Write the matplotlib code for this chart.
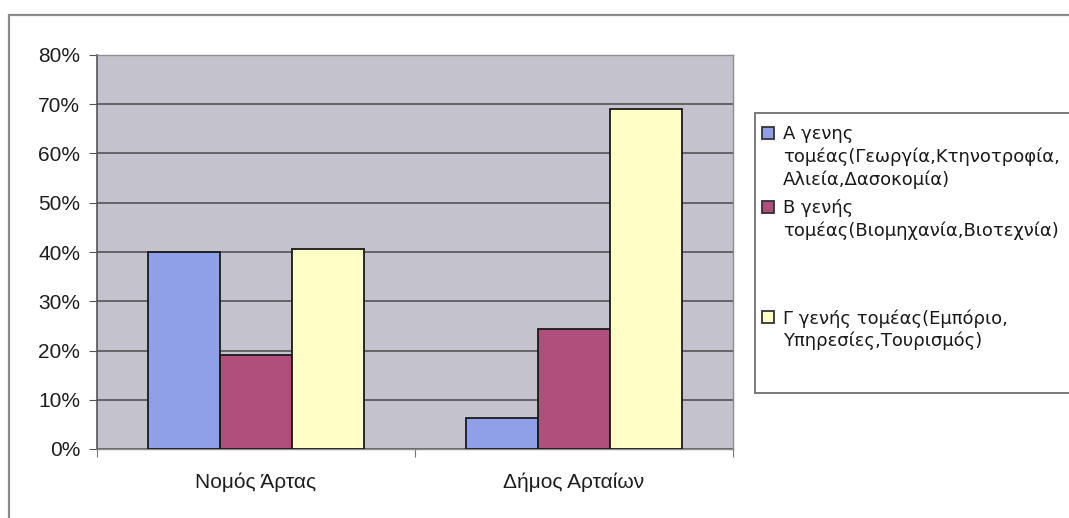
import numpy as np
import matplotlib.pyplot as plt
from matplotlib.patches import Rectangle

# employment share by sector (%)
categories = ['Νομός Άρτας', 'Δήμος Αρταίων']
sector_a = [40.0, 6.2]
sector_b = [19.1, 24.3]
sector_c = [40.6, 69.0]
labels = ['Α γενης\nτομέας(Γεωργία,Κτηνοτροφία,\nΑλιεία,Δασοκομία)',
          'Β γενής\nτομέας(Βιομηχανία,Βιοτεχνία)',
          'Γ γενής τομέας(Εμπόριο,\nΥπηρεσίες,Τουρισμός)']
yticks = [0, 10, 20, 30, 40, 50, 60, 70, 80]

colors = ['#8fa0e9', '#b04f7c', '#fffec6']
W, H = 1069, 518

fig = plt.figure(figsize=(W / 100, H / 100), dpi=100)
fig.patch.set_facecolor('white')

# outer chart frame
fig.patches.append(Rectangle((9 / W, -0.1), 1.2, 1 - 15 / H + 0.1,
                             transform=fig.transFigure, fill=False,
                             edgecolor='#8a8a8a', lw=1.6))

ax = fig.add_axes([97 / W, 1 - 449 / H, 636 / W, 394 / H])
ax.set_facecolor('#c4c2cc')

x = np.arange(len(categories)) + 0.5
w = 0.226
for i, vals in enumerate([sector_a, sector_b, sector_c]):
    ax.bar(x + (i - 1) * w, vals, w, color=colors[i], edgecolor='#1a1a1a',
           lw=1.3, zorder=3)

ax.set_xlim(0, 2)
ax.set_ylim(0, 80)
ax.set_yticks(yticks)
ax.set_yticklabels([f'{t}%' for t in yticks])
ax.yaxis.grid(True, color='#4a4a4a', lw=1.1, zorder=1)
ax.set_axisbelow(True)

ax.set_xticks([0, 1, 2])
ax.set_xticklabels([])
ax.set_xticks(x, minor=True)
ax.set_xticklabels(categories, minor=True)
ax.tick_params(axis='x', which='minor', length=0, pad=17)
ax.tick_params(axis='x', which='major', length=6, color='#777', direction='out')
ax.tick_params(axis='y', length=6, color='#555', pad=6)

for lab in ax.get_yticklabels() + ax.get_xticklabels(minor=True):
    lab.set_fontfamily('Liberation Sans')
    lab.set_fontsize(15)
    lab.set_color('#1e1e1e')

for side in ['top', 'right', 'bottom']:
    ax.spines[side].set_color('#8c8c8c')
    ax.spines[side].set_linewidth(1.0)
ax.spines['left'].set_color('#555')
ax.spines['left'].set_linewidth(1.2)

# legend box drawn by hand
fig.patches.append(Rectangle((755 / W, 1 - 393 / H), 0.4, 280 / H,
                             transform=fig.transFigure, fill=True,
                             facecolor='white', edgecolor='#7a7a7a', lw=1.4))
entry_y = [133, 207, 317]
for lab, c, yy in zip(labels, colors, entry_y):
    fig.patches.append(Rectangle((762 / W, 1 - (yy + 6) / H), 12 / W, 12 / H,
                                 transform=fig.transFigure, facecolor=c,
                                 edgecolor='#333', lw=1.3))
    fig.text(783 / W, 1 - (yy - 8) / H, lab, fontsize=13,
             family='DejaVu Sans', color='#1a1a1a', va='top', ha='left',
             linespacing=1.3)

fig.savefig('out.png', dpi=100)
